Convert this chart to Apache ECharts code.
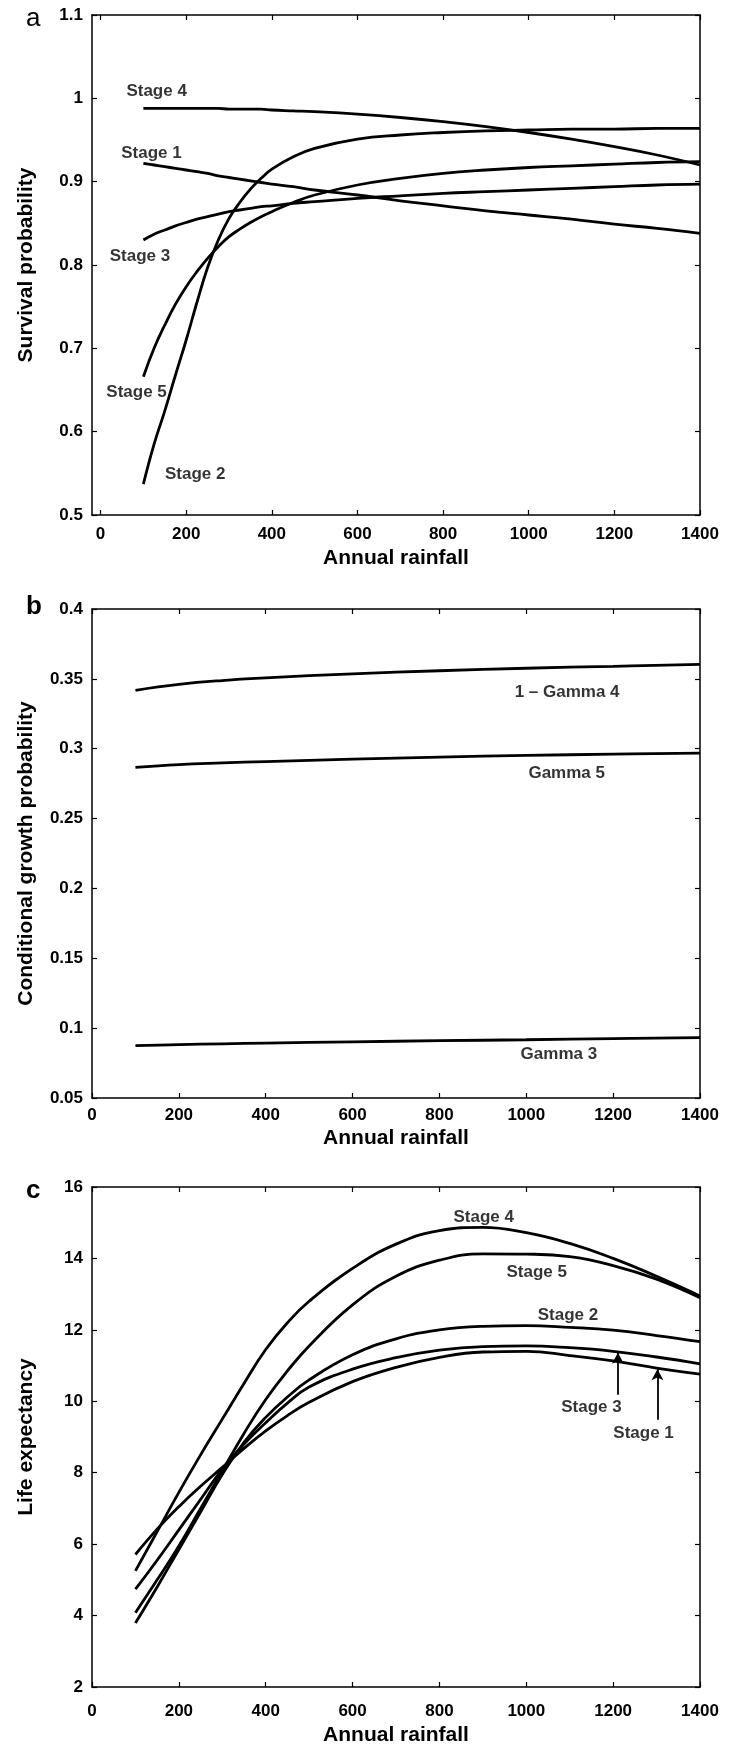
<!DOCTYPE html>
<html>
<head>
<meta charset="utf-8">
<script src="https://cdn.jsdelivr.net/npm/echarts@6/dist/echarts.min.js"></script>
<style>
  html, body { margin: 0; padding: 0; background: #fff; }
  #main { width: 736px; height: 1752px; }
</style>
</head>
<body>
<div id="main"></div>
<script>
// ---- panel a: survival probability ----
var rainA = [100, 125, 150, 175, 200, 225, 250, 275, 300, 325, 350, 375, 400, 450, 500, 600, 700, 800, 900, 1000, 1100, 1200, 1300, 1400];
var survStage1 = [0.922, 0.920, 0.918, 0.916, 0.914, 0.912, 0.910, 0.907, 0.905, 0.903, 0.901, 0.899, 0.897, 0.894, 0.890, 0.884, 0.877, 0.871, 0.865, 0.860, 0.855, 0.849, 0.844, 0.838];
var survStage2 = [0.537, 0.585, 0.625, 0.668, 0.710, 0.755, 0.797, 0.830, 0.856, 0.875, 0.891, 0.904, 0.915, 0.930, 0.940, 0.951, 0.956, 0.959, 0.961, 0.962, 0.963, 0.963, 0.964, 0.964];
var survStage3 = [0.830, 0.837, 0.842, 0.847, 0.851, 0.855, 0.858, 0.861, 0.864, 0.866, 0.868, 0.870, 0.871, 0.874, 0.876, 0.880, 0.883, 0.886, 0.888, 0.890, 0.892, 0.894, 0.896, 0.897];
var survStage4 = [0.988, 0.988, 0.988, 0.988, 0.988, 0.988, 0.988, 0.988, 0.987, 0.987, 0.987, 0.987, 0.986, 0.985, 0.984, 0.981, 0.977, 0.972, 0.966, 0.959, 0.951, 0.942, 0.932, 0.920];
var survStage5 = [0.666, 0.700, 0.728, 0.753, 0.774, 0.792, 0.808, 0.822, 0.834, 0.843, 0.851, 0.858, 0.864, 0.875, 0.884, 0.896, 0.904, 0.910, 0.914, 0.917, 0.919, 0.921, 0.923, 0.924];
var labelsA = [['Stage 4', 131, 1.009], ['Stage 1', 119, 0.934], ['Stage 3', 92, 0.811], ['Stage 5', 84, 0.647], ['Stage 2', 221, 0.549]];
var ticksA = [0, 200, 400, 600, 800, 1000, 1200, 1400];

// ---- panel b: conditional growth probability ----
var rainB = [100, 200, 300, 400, 600, 800, 1000, 1200, 1400];
var oneMinusGamma4 = [0.3418, 0.3460, 0.3488, 0.3507, 0.3536, 0.3558, 0.3576, 0.3590, 0.3603];
var gamma5 = [0.2866, 0.2886, 0.2898, 0.2908, 0.2925, 0.2940, 0.2952, 0.2961, 0.2968];
var gamma3 = [0.0875, 0.0882, 0.0888, 0.0893, 0.0902, 0.0910, 0.0917, 0.0925, 0.0932];
var labelsB = [['1 \u2013 Gamma 4', 1094, 0.3406], ['Gamma 5', 1093, 0.2822], ['Gamma 3', 1075, 0.0810]];

// ---- panel c: life expectancy ----
var rainC = [100, 150, 200, 250, 300, 350, 400, 450, 500, 600, 700, 800, 900, 1000, 1100, 1200, 1300, 1400];
var lifeStage1 = [5.71, 6.42, 7.05, 7.62, 8.15, 8.68, 9.17, 9.6, 9.97, 10.55, 10.95, 11.23, 11.38, 11.4, 11.28, 11.13, 10.93, 10.76];
var lifeStage2 = [3.79, 4.8, 5.85, 6.9, 7.95, 8.85, 9.55, 10.12, 10.6, 11.3, 11.75, 12.0, 12.1, 12.12, 12.07, 11.99, 11.84, 11.67];
var lifeStage3 = [4.74, 5.55, 6.4, 7.25, 8.1, 8.8, 9.4, 9.95, 10.4, 10.9, 11.22, 11.43, 11.53, 11.55, 11.5, 11.4, 11.24, 11.05];
var lifeStage4 = [5.25, 6.35, 7.45, 8.5, 9.5, 10.5, 11.45, 12.2, 12.8, 13.72, 14.4, 14.78, 14.87, 14.72, 14.42, 14.0, 13.5, 12.95];
var lifeStage5 = [4.08, 5.0, 5.95, 7.0, 8.05, 9.1, 10.05, 10.85, 11.55, 12.7, 13.5, 13.95, 14.13, 14.12, 14.05, 13.8, 13.42, 12.9];
var labelsC = [['Stage 4', 902, 15.15], ['Stage 5', 1024, 13.6], ['Stage 2', 1096, 12.4], ['Stage 3', 1150, 9.82], ['Stage 1', 1270, 9.1]];
var arrowsC = [[1211, 10.18, 11.36], [1302, 9.48, 10.9]];

var FONT = 'Liberation Sans';

function pairs(xs, ys) {
    return xs.map(function (x, i) { return [x, ys[i]]; });
}

function plain(v) {
    return String(parseFloat(v.toFixed(4)));
}

function curve(xs, ys, g, extra) {
    var s = {
        type: 'line',
        xAxisIndex: g * 2,
        yAxisIndex: g * 2,
        data: pairs(xs, ys),
        smooth: 0.45,
        showSymbol: false,
        symbol: 'none',
        silent: true,
        lineStyle: { color: '#000', width: 2.8 },
        z: 3
    };
    if (extra) for (var k in extra) s[k] = extra[k];
    return s;
}

function textSeries(list, g) {
    return {
        type: 'scatter',
        xAxisIndex: g * 2,
        yAxisIndex: g * 2,
        symbol: 'rect',
        symbolSize: 1,
        silent: true,
        itemStyle: { color: 'rgba(0,0,0,0)' },
        label: {
            show: true, position: 'inside', formatter: '{b}',
            color: '#000', textBorderWidth: 0,
            fontFamily: FONT, fontWeight: 'bold', fontSize: 17
        },
        data: list.map(function (l) { return { name: l[0], value: [l[1], l[2]] }; })
    };
}

var tickStyle = { inside: true, length: 5, lineStyle: { color: '#000', width: 1.2 } };
var lineStyleAx = { show: true, onZero: false, lineStyle: { color: '#000', width: 1.5 } };
var lblStyle = { color: '#000', fontFamily: FONT, fontWeight: 'bold', fontSize: 17, formatter: plain };

function xAxes(g, min, max, custom, labelMargin, nameGap) {
    var bottom = {
        type: 'value', gridIndex: g, position: 'bottom', min: min, max: max,
        axisLine: lineStyleAx, splitLine: { show: false },
        axisTick: Object.assign({}, tickStyle),
        axisLabel: Object.assign({ margin: labelMargin }, lblStyle),
        name: 'Annual rainfall', nameLocation: 'middle', nameGap: nameGap,
        nameTextStyle: { color: '#000', fontFamily: FONT, fontWeight: 'bold', fontSize: 21 }
    };
    var top = {
        type: 'value', gridIndex: g, position: 'top', min: min, max: max,
        axisLine: lineStyleAx, splitLine: { show: false },
        axisTick: Object.assign({}, tickStyle),
        axisLabel: { show: false }
    };
    if (custom) {
        bottom.axisTick.customValues = custom;
        bottom.axisLabel.customValues = custom;
        top.axisTick.customValues = custom;
    } else {
        bottom.interval = 200;
        top.interval = 200;
    }
    return [bottom, top];
}

function yAxes(g, min, max, interval, name, nameGap) {
    return [{
        type: 'value', gridIndex: g, position: 'left', min: min, max: max, interval: interval,
        axisLine: lineStyleAx, splitLine: { show: false },
        axisTick: tickStyle,
        axisLabel: Object.assign({ margin: 9 }, lblStyle),
        name: name, nameLocation: 'middle', nameGap: nameGap,
        nameTextStyle: { color: '#000', fontFamily: FONT, fontWeight: 'bold', fontSize: 21 }
    }, {
        type: 'value', gridIndex: g, position: 'right', min: min, max: max, interval: interval,
        axisLine: lineStyleAx, splitLine: { show: false },
        axisTick: tickStyle,
        axisLabel: { show: false }
    }];
}

var arrowLine = {
    silent: true,
    symbol: ['none', 'arrow'],
    symbolSize: [9, 11],
    label: { show: false },
    lineStyle: { color: '#000', width: 1.8, type: 'solid' },
    data: arrowsC.map(function (a) {
        return [{ coord: [a[0], a[1]] }, { coord: [a[0], a[2]] }];
    })
};

var myChart = echarts.init(document.getElementById('main'), null, { renderer: 'canvas' });

myChart.setOption({
    animation: false,
    backgroundColor: '#fff',
    grid: [
        { left: 92, top: 15, width: 608, height: 500 },
        { left: 92, top: 609, width: 608, height: 489 },
        { left: 92, top: 1187, width: 608, height: 500 }
    ],
    xAxis: []
        .concat(xAxes(0, -20, 1400, ticksA, 11, 33))
        .concat(xAxes(1, 0, 1400, null, 9, 30))
        .concat(xAxes(2, 0, 1400, null, 16, 38)),
    yAxis: []
        .concat(yAxes(0, 0.5, 1.1, 0.1, 'Survival probability', 55))
        .concat(yAxes(1, 0.05, 0.4, 0.05, 'Conditional growth probability', 55))
        .concat(yAxes(2, 2, 16, 2, 'Life expectancy', 55)),
    graphic: [
        { type: 'text', left: 26, top: 6, style: { text: 'a', fill: '#000', font: '26px ' + FONT } },
        { type: 'text', left: 26, top: 594, style: { text: 'b', fill: '#000', font: 'bold 26px ' + FONT } },
        { type: 'text', left: 26, top: 1178, style: { text: 'c', fill: '#000', font: 'bold 26px ' + FONT } }
    ],
    series: [
        curve(rainA, survStage1, 0),
        curve(rainA, survStage2, 0),
        curve(rainA, survStage3, 0),
        curve(rainA, survStage4, 0),
        curve(rainA, survStage5, 0),
        textSeries(labelsA, 0),

        curve(rainB, oneMinusGamma4, 1),
        curve(rainB, gamma5, 1),
        curve(rainB, gamma3, 1),
        textSeries(labelsB, 1),

        curve(rainC, lifeStage1, 2),
        curve(rainC, lifeStage2, 2),
        curve(rainC, lifeStage3, 2, { markLine: arrowLine }),
        curve(rainC, lifeStage4, 2),
        curve(rainC, lifeStage5, 2),
        textSeries(labelsC, 2)
    ]
});
</script>
</body>
</html>
